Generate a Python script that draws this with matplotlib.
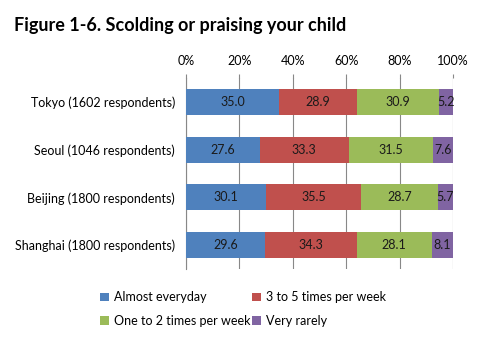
import matplotlib
matplotlib.use('Agg')
import matplotlib.pyplot as plt
from matplotlib.patches import Patch
import numpy as np

plt.rcParams['font.family'] = ['Lato', 'DejaVu Sans']

cities = ['Tokyo (1602 respondents)', 'Seoul (1046 respondents)',
          'Beijing (1800 respondents)', 'Shanghai (1800 respondents)']
almost_everyday = [35.0, 27.6, 30.1, 29.6]
three_to_five = [28.9, 33.3, 35.5, 34.3]
one_to_two = [30.9, 31.5, 28.7, 28.1]
very_rarely = [5.2, 7.6, 5.7, 8.1]

series = [almost_everyday, three_to_five, one_to_two, very_rarely]
names = ['Almost everyday', '3 to 5 times per week', 'One to 2 times per week', 'Very rarely']
colors = ['#4F81BD', '#C0504D', '#9BBB59', '#8064A2']

fig = plt.figure(figsize=(4.84, 3.39), dpi=100)
ax = fig.add_axes([186/484, 1 - 269/339, 267/484, 191/339])

y = np.arange(len(cities))
left = np.zeros(len(cities))
for vals, c in zip(series, colors):
    vals = np.array(vals)
    ax.barh(y, vals, left=left, height=0.545, color=c, zorder=3)
    for yi, l, v in zip(y, left, vals):
        ax.text(l + v / 2, yi, f'{v:.1f}', ha='center', va='center', fontsize=9, color='#1a1a1a', zorder=4)
    left = left + vals

ax.set_xlim(0, 100)
ax.set_ylim(3.5, -0.5)
ax.set_xticks(range(0, 101, 20))
ax.set_xticklabels([f'{t}%' for t in range(0, 101, 20)])
ax.xaxis.tick_top()
ax.tick_params(axis='x', length=3, color='#888888', labelsize=9, pad=5)
ax.set_yticks(y)
ax.set_yticklabels(cities)
ax.tick_params(axis='y', length=0, labelsize=9, pad=8)
ax.grid(axis='x', color='#888888', linewidth=0.8, zorder=0)
for s in ['top', 'right', 'bottom']:
    ax.spines[s].set_visible(False)
ax.spines['left'].set_color('#888888')

fig.text(14/484, 1 - 25/339, 'Figure 1-6. Scolding or praising your child',
         fontsize=13, fontweight='bold', va='center', ha='left')

# legend fills by column, so order handles to get rows like the original
order = [0, 2, 1, 3]
handles = [Patch(facecolor=colors[i], label=names[i]) for i in order]
fig.legend(handles=handles, loc='upper left', bbox_to_anchor=(94/484, 1 - 285/339),
           ncol=2, frameon=False, fontsize=9, handlelength=0.7, handleheight=0.7,
           handletextpad=0.4, columnspacing=0.1, labelspacing=0.95, borderpad=0)

fig.savefig('out.png', dpi=100)
